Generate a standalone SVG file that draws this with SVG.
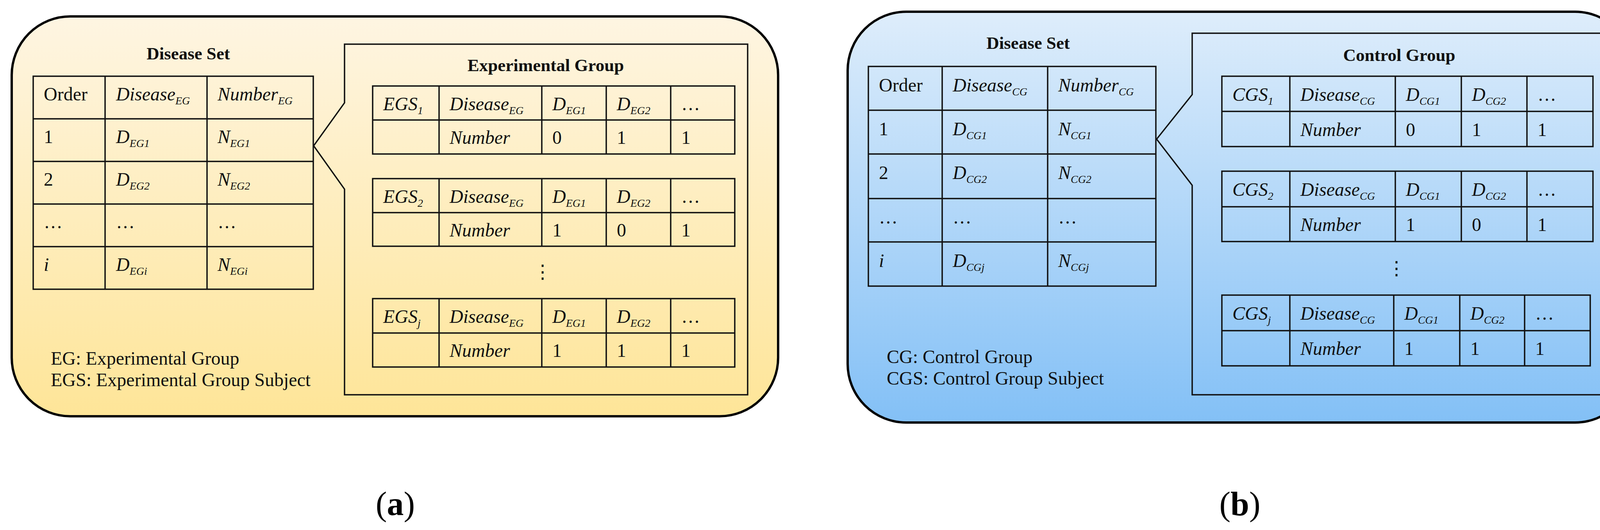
<svg xmlns="http://www.w3.org/2000/svg" width="4227" height="1356" viewBox="0 0 4227 1356">
<defs>
<linearGradient id="ga" x1="0" y1="0" x2="0" y2="1"><stop offset="0" stop-color="#fef5e2"/><stop offset="1" stop-color="#fee598"/></linearGradient>
<linearGradient id="gb" x1="0" y1="0" x2="0" y2="1"><stop offset="0" stop-color="#deedfb"/><stop offset="1" stop-color="#83c0f6"/></linearGradient>
<style>
text{font-family:"Liberation Serif","Times New Roman",serif;font-size:48px;fill:#111}
.t{font-weight:bold;text-anchor:middle;font-size:45px}
.i{font-style:italic}
.s{font-size:28px;font-style:italic}
.g{fill:none;stroke:#111;stroke-width:3.5}
.o{stroke:#000;stroke-width:6}
.lab{font-size:86px;text-anchor:middle;fill:#000}
</style>
</defs>
<rect x="30" y="42" width="1962" height="1023" rx="150" fill="url(#ga)" class="o" id="panelA"/>
<rect x="2170" y="30" width="2012" height="1051" rx="150" fill="url(#gb)" class="o" id="panelB"/>

<g id="diseaseSetA">
<text class="t" x="482" y="152">Disease Set</text>
<rect class="g" x="85" y="195" width="717" height="545"/>
<path class="g" d="M85 304H802M85 413H802M85 522H802M85 631H802M269 195V740M530 195V740"/>
<text x="112" y="257">Order</text><text x="297" y="257" class="i">Disease<tspan class="s" dy="10">EG</tspan></text><text x="557" y="257" class="i">Number<tspan class="s" dy="10">EG</tspan></text>
<text x="112" y="366">1</text><text x="297" y="366" class="i">D<tspan class="s" dy="10">EG1</tspan></text><text x="557" y="366" class="i">N<tspan class="s" dy="10">EG1</tspan></text>
<text x="112" y="475">2</text><text x="297" y="475" class="i">D<tspan class="s" dy="10">EG2</tspan></text><text x="557" y="475" class="i">N<tspan class="s" dy="10">EG2</tspan></text>
<text x="112" y="584">…</text><text x="297" y="584">…</text><text x="557" y="584">…</text>
<text x="112" y="693" class="i">i</text><text x="297" y="693" class="i">D<tspan class="s" dy="10">EGi</tspan></text><text x="557" y="693" class="i">N<tspan class="s" dy="10">EGi</tspan></text>
<text x="130" y="933">EG: Experimental Group</text>
<text x="130" y="988">EGS: Experimental Group Subject</text>
</g>

<g id="experimentalGroup">
<path class="g" d="M882 263V113H1914V1010H882V484L803 373Z" fill="none"/>
<text class="t" x="1397" y="182">Experimental Group</text>
<g id="egs1">
<rect class="g" x="954" y="220" width="927" height="174"/>
<path class="g" d="M954 307H1881M1124 220V394M1387 220V394M1552 220V394M1717 220V394"/>
<text x="981" y="282" class="i">EGS<tspan class="s" dy="10">1</tspan></text><text x="1151" y="282" class="i">Disease<tspan class="s" dy="10">EG</tspan></text><text x="1414" y="282" class="i">D<tspan class="s" dy="10">EG1</tspan></text><text x="1579" y="282" class="i">D<tspan class="s" dy="10">EG2</tspan></text><text x="1744" y="282">…</text>
<text x="1151" y="368" class="i">Number</text><text x="1414" y="368">0</text><text x="1579" y="368">1</text><text x="1744" y="368">1</text>
</g>
<g id="egs2">
<rect class="g" x="954" y="457" width="927" height="173"/>
<path class="g" d="M954 544H1881M1124 457V630M1387 457V630M1552 457V630M1717 457V630"/>
<text x="981" y="519" class="i">EGS<tspan class="s" dy="10">2</tspan></text><text x="1151" y="519" class="i">Disease<tspan class="s" dy="10">EG</tspan></text><text x="1414" y="519" class="i">D<tspan class="s" dy="10">EG1</tspan></text><text x="1579" y="519" class="i">D<tspan class="s" dy="10">EG2</tspan></text><text x="1744" y="519">…</text>
<text x="1151" y="605" class="i">Number</text><text x="1414" y="605">1</text><text x="1579" y="605">0</text><text x="1744" y="605">1</text>
</g>
<text x="1389" y="712" text-anchor="middle">⋮</text>
<g id="egsj">
<rect class="g" x="954" y="764" width="927" height="175"/>
<path class="g" d="M954 852H1881M1124 764V939M1387 764V939M1552 764V939M1717 764V939"/>
<text x="981" y="826" class="i">EGS<tspan class="s" dy="10">j</tspan></text><text x="1151" y="826" class="i">Disease<tspan class="s" dy="10">EG</tspan></text><text x="1414" y="826" class="i">D<tspan class="s" dy="10">EG1</tspan></text><text x="1579" y="826" class="i">D<tspan class="s" dy="10">EG2</tspan></text><text x="1744" y="826">…</text>
<text x="1151" y="913" class="i">Number</text><text x="1414" y="913">1</text><text x="1579" y="913">1</text><text x="1744" y="913">1</text>
</g>
</g>

<g id="diseaseSetB">
<text class="t" x="2632" y="125">Disease Set</text>
<rect class="g" x="2223" y="170" width="736" height="562"/>
<path class="g" d="M2223 282H2959M2223 394H2959M2223 508H2959M2223 619H2959M2412 170V732M2682 170V732"/>
<text x="2250" y="234">Order</text><text x="2439" y="234" class="i">Disease<tspan class="s" dy="10">CG</tspan></text><text x="2709" y="234" class="i">Number<tspan class="s" dy="10">CG</tspan></text>
<text x="2250" y="346">1</text><text x="2439" y="346" class="i">D<tspan class="s" dy="10">CG1</tspan></text><text x="2709" y="346" class="i">N<tspan class="s" dy="10">CG1</tspan></text>
<text x="2250" y="458">2</text><text x="2439" y="458" class="i">D<tspan class="s" dy="10">CG2</tspan></text><text x="2709" y="458" class="i">N<tspan class="s" dy="10">CG2</tspan></text>
<text x="2250" y="572">…</text><text x="2439" y="572">…</text><text x="2709" y="572">…</text>
<text x="2250" y="683" class="i">i</text><text x="2439" y="683" class="i">D<tspan class="s" dy="10">CGj</tspan></text><text x="2709" y="683" class="i">N<tspan class="s" dy="10">CGj</tspan></text>
<text x="2270" y="929">CG: Control Group</text>
<text x="2270" y="984">CGS: Control Group Subject</text>
</g>

<g id="controlGroup">
<path class="g" d="M3052 242V85H4111V1010H3052V474L2961 356Z" fill="none"/>
<text class="t" x="3582" y="156">Control Group</text>
<g id="cgs1">
<rect class="g" x="3128" y="195" width="950" height="180"/>
<path class="g" d="M3128 285H4078M3302 195V375M3572 195V375M3741 195V375M3909 195V375"/>
<text x="3155" y="258" class="i">CGS<tspan class="s" dy="10">1</tspan></text><text x="3329" y="258" class="i">Disease<tspan class="s" dy="10">CG</tspan></text><text x="3599" y="258" class="i">D<tspan class="s" dy="10">CG1</tspan></text><text x="3768" y="258" class="i">D<tspan class="s" dy="10">CG2</tspan></text><text x="3936" y="258">…</text>
<text x="3329" y="348" class="i">Number</text><text x="3599" y="348">0</text><text x="3768" y="348">1</text><text x="3936" y="348">1</text>
</g>
<g id="cgs2">
<rect class="g" x="3128" y="438" width="950" height="180"/>
<path class="g" d="M3128 529H4078M3302 438V618M3572 438V618M3741 438V618M3909 438V618"/>
<text x="3155" y="501" class="i">CGS<tspan class="s" dy="10">2</tspan></text><text x="3329" y="501" class="i">Disease<tspan class="s" dy="10">CG</tspan></text><text x="3599" y="501" class="i">D<tspan class="s" dy="10">CG1</tspan></text><text x="3768" y="501" class="i">D<tspan class="s" dy="10">CG2</tspan></text><text x="3936" y="501">…</text>
<text x="3329" y="591" class="i">Number</text><text x="3599" y="591">1</text><text x="3768" y="591">0</text><text x="3936" y="591">1</text>
</g>
<text x="3575" y="703" text-anchor="middle">⋮</text>
<g id="cgsj">
<rect class="g" x="3128" y="755" width="943" height="181"/>
<path class="g" d="M3128 846H4071M3302 755V936M3568 755V936M3737 755V936M3903 755V936"/>
<text x="3155" y="818" class="i">CGS<tspan class="s" dy="10">j</tspan></text><text x="3329" y="818" class="i">Disease<tspan class="s" dy="10">CG</tspan></text><text x="3595" y="818" class="i">D<tspan class="s" dy="10">CG1</tspan></text><text x="3764" y="818" class="i">D<tspan class="s" dy="10">CG2</tspan></text><text x="3930" y="818">…</text>
<text x="3329" y="908" class="i">Number</text><text x="3595" y="908">1</text><text x="3764" y="908">1</text><text x="3930" y="908">1</text>
</g>
</g>

<text class="lab" x="1012" y="1318">(<tspan font-weight="bold">a</tspan>)</text>
<text class="lab" x="3174" y="1318">(<tspan font-weight="bold">b</tspan>)</text>
</svg>
